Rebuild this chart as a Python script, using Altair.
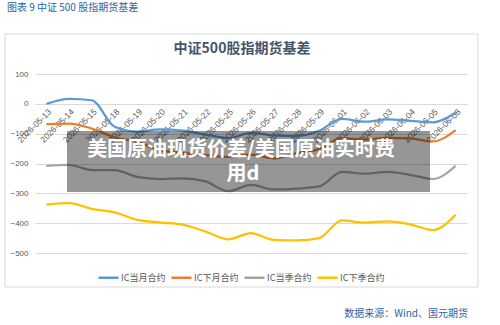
import altair as alt
import pandas as pd

dates = ["2026-05-13", "2026-05-14", "2026-05-15", "2026-05-18", "2026-05-19",
         "2026-05-20", "2026-05-21", "2026-05-22", "2026-05-25", "2026-05-26",
         "2026-05-27", "2026-05-28", "2026-05-29", "2026-06-01", "2026-06-02",
         "2026-06-03", "2026-06-04", "2026-06-05", "2026-06-08"]
series_names = ["IC当月合约", "IC下月合约", "IC当季合约", "IC下季合约"]
ic_cur_month = [0, 17, 12, -77, -93, -86, -90, -103, -115, -97, -106, -108, -90,
                -50, -60, -52, -57, -62, -30]
ic_next_month = [-68, -66, -83, -112, -128, -155, -165, -172, -178, -170, -183,
                 -165, -152, -115, -120, -114, -116, -126, -88]
ic_cur_quarter = [-208, -205, -222, -222, -245, -252, -250, -260, -293, -272,
                  -287, -284, -277, -228, -234, -228, -238, -252, -208]
ic_next_quarter = [-338, -333, -352, -364, -389, -398, -405, -428, -454, -433,
                   -456, -458, -450, -391, -398, -394, -404, -423, -372]
colors = ["#5B9BD5", "#ED7D31", "#A5A5A5", "#FFC000"]

header_text = "图表 9  中证 500 股指期货基差"
title_text = "中证500股指期货基差"
source_text = "数据来源：Wind、国元期货"
overlay_line1 = "美国原油现货价差/美国原油实时费"
overlay_line2 = "用d"

rows = []
for name, vals in zip(series_names, [ic_cur_month, ic_next_month, ic_cur_quarter, ic_next_quarter]):
    for d, v in zip(dates, vals):
        rows.append({"date": d, "series": name, "value": v})
df = pd.DataFrame(rows)

FONT = "Noto Sans CJK SC"

lines = alt.Chart(df).mark_line(strokeWidth=2.25, interpolate="monotone").encode(
    x=alt.X("date:O", sort=dates, scale=alt.Scale(type="point", padding=0.5),
            axis=alt.Axis(title=None, orient="bottom", offset=-149, labelAngle=-45,
                          labelFontSize=8.5, labelColor="#595959", labelFont="Liberation Sans",
                          domainColor="#D9D9D9", ticks=False, labelPadding=3, grid=False)),
    y=alt.Y("value:Q", scale=alt.Scale(domain=[-500, 100], nice=False),
            axis=alt.Axis(title=None, values=[100, 0, -100, -200, -300, -400, -500],
                          labelFontSize=8, labelColor="#595959", labelFont="Liberation Sans",
                          domain=False, ticks=False, gridColor="#D9D9D9", labelPadding=7)),
    color=alt.Color("series:N", sort=series_names,
                    scale=alt.Scale(domain=series_names, range=colors),
                    legend=alt.Legend(orient="none", legendX=62, legendY=192,
                                      direction="horizontal", title=None,
                                      symbolType="stroke", symbolSize=400,
                                      symbolStrokeWidth=2.5, labelFontSize=9,
                                      labelColor="#595959", labelFont=FONT,
                                      columnPadding=0, labelOffset=1)),
    order=alt.Order("series:N"),
)

one = pd.DataFrame({"a": [0]})

border = alt.Chart(one).mark_rect(fillOpacity=0, stroke="#D9D9D9", strokeWidth=1).encode(
    x=alt.value(-30), x2=alt.value(443), y=alt.value(-40), y2=alt.value(213))

box = alt.Chart(one).mark_rect(fill="#000000", fillOpacity=0.41).encode(
    x=alt.value(32), x2=alt.value(395), y=alt.value(57), y2=alt.value(118))

t1 = alt.Chart(pd.DataFrame({"t": [overlay_line1]})).mark_text(
    font=FONT, fontSize=20, fontWeight="bold", color="white", align="center", baseline="middle"
).encode(text="t:N", x=alt.value(206), y=alt.value(76))

t2 = alt.Chart(pd.DataFrame({"t": [overlay_line2]})).mark_text(
    font=FONT, fontSize=20, fontWeight="bold", color="white", align="center", baseline="middle"
).encode(text="t:N", x=alt.value(208), y=alt.value(100))

header = alt.Chart(pd.DataFrame({"t": [header_text]})).mark_text(
    font=FONT, fontSize=10, color="#2E64A8", align="left", baseline="middle"
).encode(text="t:N", x=alt.value(-28), y=alt.value(-66))

title = alt.Chart(pd.DataFrame({"t": [title_text]})).mark_text(
    font=FONT, fontSize=14, fontWeight="bold", color="#44546A", align="center", baseline="middle"
).encode(text="t:N", x=alt.value(207), y=alt.value(-25))

source = alt.Chart(pd.DataFrame({"t": [source_text]})).mark_text(
    font=FONT, fontSize=10, color="#2E64A8", align="right", baseline="middle"
).encode(text="t:N", x=alt.value(433), y=alt.value(240))

chart = alt.layer(border, lines, box, t1, t2, header, title, source).properties(
    width=432, height=179,
    padding={"left": 35, "top": 74, "right": 33, "bottom": 72},
    autosize="none",
    background="white",
).configure_view(stroke=None)

chart.save("out.html", embed_options={"renderer": "svg", "actions": False})
